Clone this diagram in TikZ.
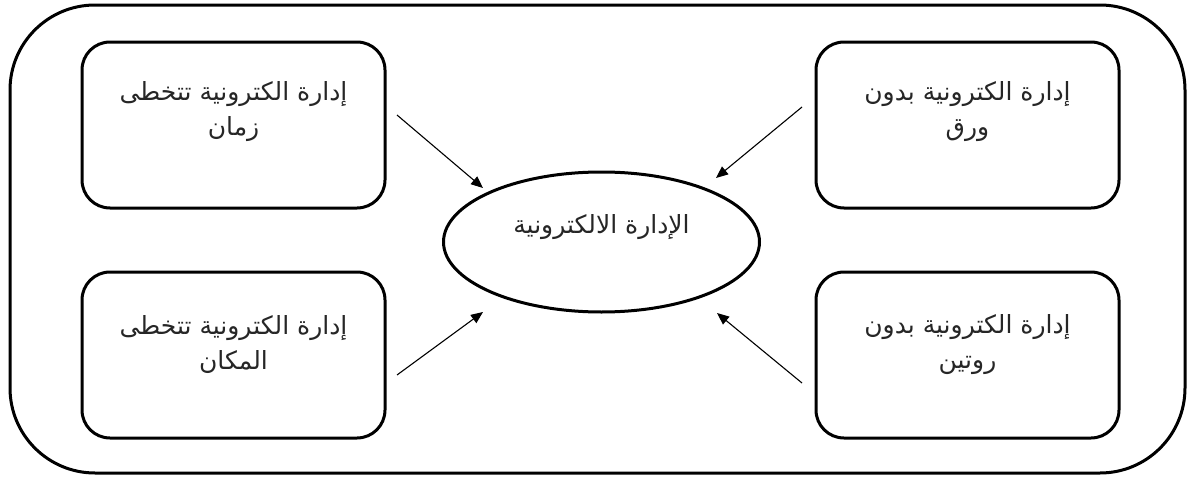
\documentclass[tikz,border=0pt]{standalone}
\usepackage{fontspec}
\newfontfamily\arabicfont[Script=Arabic]{DejaVu Sans}
\TeXXeTstate=1
\usetikzlibrary{arrows.meta,shapes.geometric}
\begin{document}
\begin{tikzpicture}[x=1pt,y=-1pt,
  frame/.style={draw, line width=3pt, rounded corners=85pt},
  box/.style={draw, line width=3pt, rounded corners=28pt,
    minimum width=303pt, minimum height=166pt, inner sep=0pt},
  oval/.style={draw, ellipse, line width=3pt,
    minimum width=316pt, minimum height=140pt, inner sep=0pt},
  txt/.style={font=\arabicfont\fontsize{25}{35}\selectfont,
    align=center, inner sep=0pt, text=black!85},
  arr/.style={line width=1.1pt, -{Triangle[length=12pt,width=10pt]}}]
\useasboundingbox (0,0) rectangle (1187,479);

% outer frame
\draw[frame] (10,5) rectangle (1185,473);

% four boxes
\node[box] (tl) at (233.5,125) {};
\node[box] (tr) at (967.5,125) {};
\node[box] (bl) at (233.5,355) {};
\node[box] (br) at (967.5,355) {};

% central ellipse
\node[oval] (e) at (601.5,242) {};

% labels
\node[txt] (ttl) at (233.5,112) {\beginR إدارة الكترونية تتخطى\endR\\\beginR زمان\endR};
\node[txt] (ttr) at (967.5,112) {\beginR إدارة الكترونية بدون\endR\\\beginR ورق\endR};
\node[txt] (tbl) at (233.5,345) {\beginR إدارة الكترونية تتخطى\endR\\\beginR المكان\endR};
\node[txt] (tbr) at (967.5,345) {\beginR إدارة الكترونية بدون\endR\\\beginR روتين\endR};
\node[txt] (te) at (601.5,227) {\beginR الإدارة الالكترونية\endR};

% arrow ends
\coordinate (s1) at (397,115);
\coordinate (t1) at (483,188);
\coordinate (s2) at (802,107);
\coordinate (t2) at (716,178);
\coordinate (s3) at (397,375);
\coordinate (t3) at (483,312);
\coordinate (s4) at (802,383);
\coordinate (t4) at (717,313);

\draw[arr] (s1) -- (t1);
\draw[arr] (s2) -- (t2);
\draw[arr] (s3) -- (t3);
\draw[arr] (s4) -- (t4);
\end{tikzpicture}
\end{document}
